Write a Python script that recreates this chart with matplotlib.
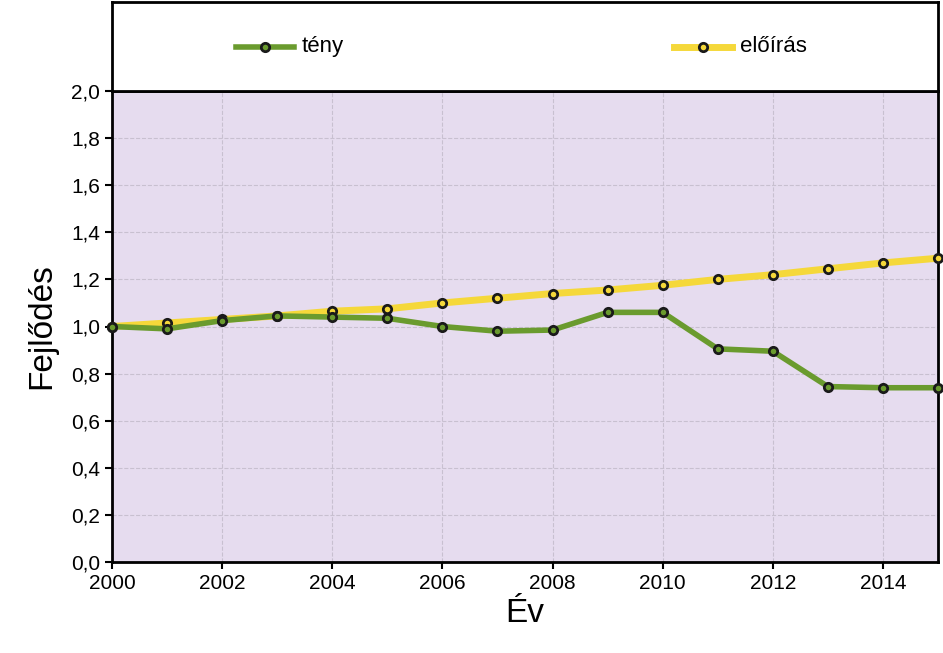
import matplotlib
matplotlib.use("Agg")
import matplotlib.pyplot as plt

plt.rcParams["font.family"] = "Liberation Sans"

years = list(range(2000, 2016))
teny = [1.0, 0.99, 1.025, 1.045, 1.04, 1.035, 1.0, 0.98, 0.985, 1.06, 1.06, 0.905, 0.895, 0.745, 0.74, 0.74]
eloiras = [1.0, 1.015, 1.03, 1.045, 1.065, 1.075, 1.1, 1.12, 1.14, 1.155, 1.175, 1.2, 1.22, 1.245, 1.27, 1.29]
yticks = [0.0, 0.2, 0.4, 0.6, 0.8, 1.0, 1.2, 1.4, 1.6, 1.8, 2.0]
xticks = list(range(2000, 2016, 2))

W, H = 943, 653
fig = plt.figure(figsize=(W / 100, H / 100), dpi=100)
ax = fig.add_axes([112 / W, 1 - 562 / H, (938 - 112) / W, (562 - 91) / H])
lax = fig.add_axes([112 / W, 1 - 91 / H, (938 - 112) / W, (91 - 2) / H])

ax.set_facecolor("#e6dcef")
ax.plot(years, eloiras, color="#f5d83a", lw=5, marker="o", ms=6,
        mfc="#f5d83a", mec="#1a1a1a", mew=2, clip_on=False, zorder=3, label="előírás")
ax.plot(years, teny, color="#6a9b2e", lw=4, marker="o", ms=6,
        mfc="#6a9b2e", mec="#1a1a1a", mew=2, clip_on=False, zorder=4, label="tény")
ax.set_xlim(2000, 2015)
ax.set_ylim(0, 2)
ax.set_xticks(xticks)
ax.set_yticks(yticks)
ax.set_yticklabels([f"{v:.1f}".replace(".", ",") for v in yticks])
ax.grid(True, color="#c8c0d0", ls="--", lw=0.8)
ax.tick_params(labelsize=15, length=5, width=1.5)
for s in ax.spines.values():
    s.set_linewidth(2)
ax.set_xlabel("Év", fontsize=24, labelpad=4)
ax.set_ylabel("Fejlődés", fontsize=24, labelpad=10)

lax.set_xlim(0, 1)
lax.set_ylim(0, 1)
lax.set_xticks([])
lax.set_yticks([])
for s in lax.spines.values():
    s.set_linewidth(2)
for x0, col, lw, txt in [(0.15, "#6a9b2e", 4, "tény"), (0.68, "#f5d83a", 5, "előírás")]:
    lax.plot([x0, x0 + 0.07], [0.5, 0.5], color=col, lw=lw)
    lax.plot([x0 + 0.035], [0.5], marker="o", ms=6, mfc=col, mec="#1a1a1a", mew=2)
    lax.text(x0 + 0.08, 0.5, txt, fontsize=16, va="center")

fig.savefig("out.png", dpi=100)
